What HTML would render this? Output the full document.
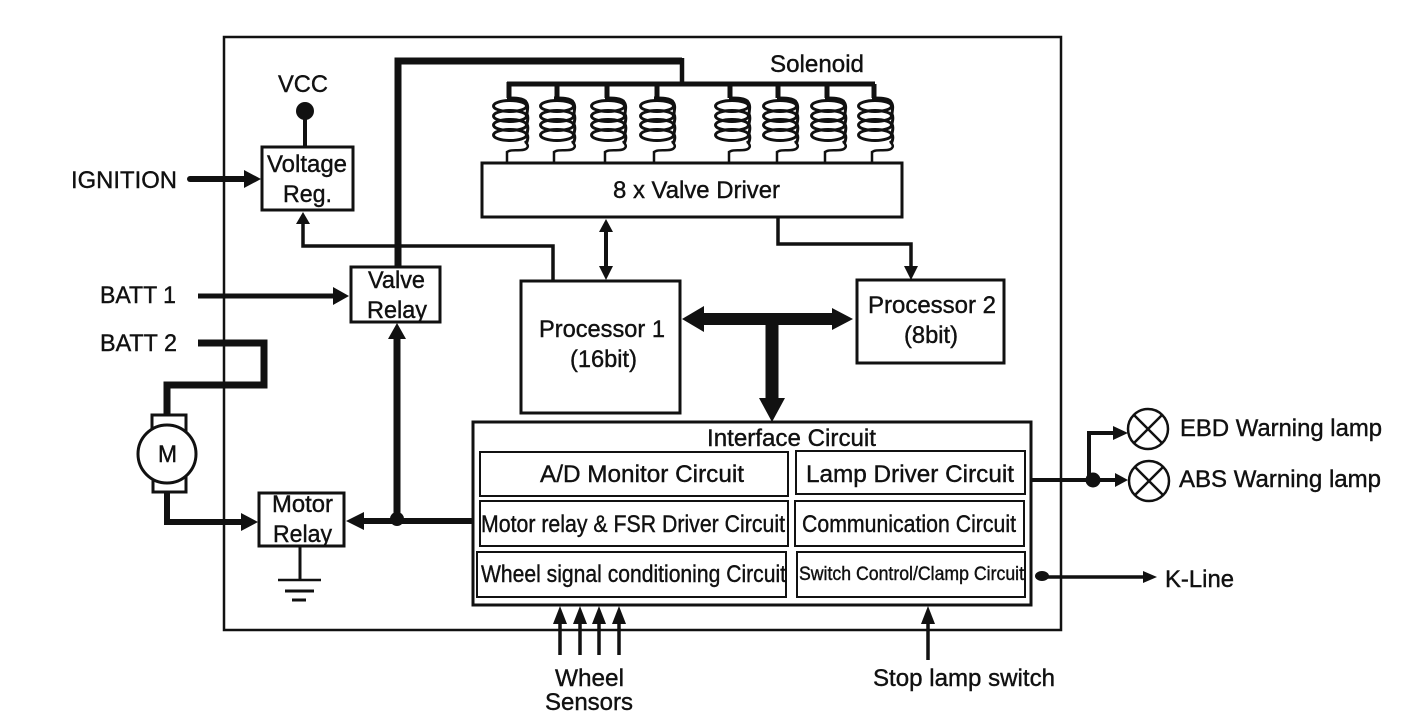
<!DOCTYPE html>
<html>
<head>
<meta charset="utf-8">
<style>
html,body{margin:0;padding:0;background:#fff;width:1408px;height:722px;overflow:hidden}
svg{display:block}
text{font-family:"Liberation Sans",sans-serif;font-size:24px;fill:#111;stroke:#111;stroke-width:.4}
.b{fill:#fff;stroke:#111;stroke-width:3}
.i{fill:none;stroke:#111;stroke-width:2}
.l{fill:none;stroke:#111;stroke-linejoin:miter}
.h{fill:#111;stroke:none}
</style>
</head>
<body>
<svg width="1408" height="722" viewBox="0 0 1408 722" xmlns="http://www.w3.org/2000/svg">
<defs>
<g id="coil">
  <path class="l" stroke-width="3" d="M-3 14 C4 14 14 14 16 18 C19 22 17 27 17 30 C19 34 17 38 17 40 C19 44 17 48 17 50 C19 54 17 58 16 60"/>
  <ellipse class="l" stroke-width="3" cx="0" cy="22" rx="16.5" ry="5.5"/>
  <ellipse class="l" stroke-width="3" cx="0" cy="32" rx="16.5" ry="5.5"/>
  <ellipse class="l" stroke-width="3" cx="0" cy="41" rx="16.5" ry="5.5"/>
  <ellipse class="l" stroke-width="3" cx="0" cy="51" rx="16.5" ry="5.5"/>
  <path class="l" stroke-width="2.5" d="M15 57 C17 60 19 62 17 64 C14 68 3 65 -1 67 L-3 68 L-3 78"/>
</g>
</defs>

<!-- outer frame -->
<rect x="224" y="37" width="837" height="593" fill="none" stroke="#111" stroke-width="2.5"/>

<!-- solenoid supply -->
<path class="l" stroke-width="7" d="M398 267 V61 H682"/>
<path class="l" stroke-width="4.5" d="M682 58 V84"/>
<path class="l" stroke-width="5" d="M507 84 H875"/>
<path class="l" stroke-width="5" d="M509 82 V98 M557 84 V98 M607 84 V98 M657 84 V98 M730 84 V98 M778 84 V98 M827 84 V98 M874 84 V98"/>

<!-- coils -->
<use href="#coil" x="510" y="84"/>
<use href="#coil" x="557" y="84"/>
<use href="#coil" x="608" y="84"/>
<use href="#coil" x="657" y="84"/>
<use href="#coil" x="732" y="84"/>
<use href="#coil" x="780" y="84"/>
<use href="#coil" x="828" y="84"/>
<use href="#coil" x="875" y="84"/>

<!-- Valve driver -->
<rect class="b" x="482" y="163" width="420" height="54"/>

<!-- Voltage reg wire -->
<path class="l" stroke-width="3.5" d="M553 281 V246 H303 V220"/>
<polygon class="h" points="303,212 296,224 310,224"/>

<!-- VCC -->
<circle cx="305" cy="111" r="9" fill="#111"/>
<path class="l" stroke-width="4" d="M305 111 V148"/>
<rect class="b" x="262" y="147" width="91" height="63"/>

<!-- Ignition -->
<path class="l" stroke-width="6" stroke-linecap="round" d="M190 179 H248"/>
<polygon class="h" points="261,179 244,170 244,188"/>

<!-- Batt 1 -->
<path class="l" stroke-width="5" d="M198 296 H336"/>
<polygon class="h" points="349,296 333,287 333,305"/>
<rect class="b" x="351" y="267" width="89" height="55"/>

<!-- Batt 2 + motor -->
<path class="l" stroke-width="7" stroke-linecap="butt" d="M198 343 H264 V385 H167 V415"/>
<rect class="b" x="152" y="415" width="34" height="24"/>
<rect class="b" x="153" y="468" width="33" height="24"/>
<circle cx="167" cy="454" r="29" fill="#fff" stroke="#111" stroke-width="3"/>
<path class="l" stroke-width="6" d="M167 492 V522 H246"/>
<polygon class="h" points="258,522 241,513 241,531"/>

<!-- Motor relay -->
<rect class="b" x="259" y="493" width="85" height="53"/>
<path class="l" stroke-width="3" d="M300 546 V580"/>
<path class="l" stroke-width="2.5" d="M278 580 H321"/>
<path class="l" stroke-width="3" d="M285 591 H314"/>
<path class="l" stroke-width="3" d="M292 600 H306"/>

<!-- Relay drive -->
<path class="l" stroke-width="6" d="M360 521 H473"/>
<polygon class="h" points="346,521 364,512 364,530"/>
<circle cx="397" cy="519" r="7" fill="#111"/>
<path class="l" stroke-width="7" d="M397 519 V335"/>
<polygon class="h" points="397,323 388,339 406,339"/>

<!-- Processors -->
<rect class="b" x="521" y="281" width="159" height="132"/>
<rect class="b" x="857" y="280" width="147" height="83"/>

<!-- Driver <-> P1 -->
<path class="l" stroke-width="4" d="M606 228 V270"/>
<polygon class="h" points="606,219 599,232 613,232"/>
<polygon class="h" points="606,280 599,266 613,266"/>

<!-- Driver -> P2 -->
<path class="l" stroke-width="3.5" d="M778 217 V244 H911 V268"/>
<polygon class="h" points="911,280 904,266 918,266"/>

<!-- Bus -->
<path class="l" stroke-width="12" d="M700 319 H836"/>
<polygon class="h" points="682,319 704,306 704,332"/>
<polygon class="h" points="853,319 832,308 832,330"/>
<path class="l" stroke-width="13" d="M772 319 V400"/>
<polygon class="h" points="772,422 759,398 785,398"/>

<!-- Interface -->
<rect class="b" x="473" y="422" width="558" height="183"/>
<rect class="i" x="480" y="452" width="308" height="44"/>
<rect class="i" x="796" y="451" width="229" height="43"/>
<rect class="i" x="480" y="501" width="308" height="45"/>
<rect class="i" x="795" y="501" width="229" height="45"/>
<rect class="i" x="477" y="552" width="309" height="45"/>
<rect class="i" x="797" y="552" width="228" height="45"/>

<!-- Wheel arrows -->
<path class="l" stroke-width="3.5" d="M560 618 V655 M580 618 V655 M599 618 V655 M619 618 V655 M928 618 V660"/>
<polygon class="h" points="560,606 553,624 567,624"/>
<polygon class="h" points="580,606 573,624 587,624"/>
<polygon class="h" points="599,606 592,624 606,624"/>
<polygon class="h" points="619,606 612,624 626,624"/>
<polygon class="h" points="928,606 921,624 935,624"/>

<!-- Lamps -->
<path class="l" stroke-width="4" d="M1032 480 H1118"/>
<polygon class="h" points="1128,480 1115,473 1115,487"/>
<circle cx="1093" cy="480" r="7.5" fill="#111"/>
<path class="l" stroke-width="4" d="M1089 480 V433 H1118"/>
<polygon class="h" points="1128,433 1113,426 1113,440"/>
<circle cx="1148" cy="429" r="20" fill="#fff" stroke="#111" stroke-width="2.5"/>
<path class="l" stroke-width="2.5" d="M1134 415 L1162 443 M1162 415 L1134 443"/>
<circle cx="1149" cy="481" r="20" fill="#fff" stroke="#111" stroke-width="2.5"/>
<path class="l" stroke-width="2.5" d="M1135 467 L1163 495 M1163 467 L1135 495"/>

<!-- K-Line -->
<path class="l" stroke-width="3.5" d="M1040 577 H1148"/>
<polygon class="h" points="1157,577 1143,571 1143,583"/>
<ellipse cx="1042" cy="576" rx="7" ry="5" fill="#111"/>

<!-- Labels -->
<text x="770" y="72" textLength="94" lengthAdjust="spacingAndGlyphs">Solenoid</text>
<text x="278" y="92" textLength="50" lengthAdjust="spacingAndGlyphs">VCC</text>
<text x="71" y="188" textLength="106" lengthAdjust="spacingAndGlyphs">IGNITION</text>
<text x="267" y="172" textLength="80" lengthAdjust="spacingAndGlyphs">Voltage</text>
<text x="283" y="202" textLength="49" lengthAdjust="spacingAndGlyphs">Reg.</text>
<text x="613" y="198" textLength="167" lengthAdjust="spacingAndGlyphs">8 x Valve Driver</text>
<text x="368" y="288" textLength="57" lengthAdjust="spacingAndGlyphs">Valve</text>
<text x="367" y="318" textLength="60" lengthAdjust="spacingAndGlyphs">Relay</text>
<text x="100" y="303" textLength="76" lengthAdjust="spacingAndGlyphs">BATT 1</text>
<text x="100" y="351" textLength="77" lengthAdjust="spacingAndGlyphs">BATT 2</text>
<text x="539" y="337" textLength="126" lengthAdjust="spacingAndGlyphs">Processor 1</text>
<text x="570" y="367" textLength="67" lengthAdjust="spacingAndGlyphs">(16bit)</text>
<text x="868" y="313" textLength="128" lengthAdjust="spacingAndGlyphs">Processor 2</text>
<text x="904" y="343" textLength="54" lengthAdjust="spacingAndGlyphs">(8bit)</text>
<text x="158" y="462" textLength="19" lengthAdjust="spacingAndGlyphs">M</text>
<text x="272" y="512" textLength="61" lengthAdjust="spacingAndGlyphs">Motor</text>
<text x="273" y="542" textLength="59" lengthAdjust="spacingAndGlyphs">Relay</text>
<text x="707" y="446" textLength="169" lengthAdjust="spacingAndGlyphs">Interface Circuit</text>
<text x="540" y="482" textLength="204" lengthAdjust="spacingAndGlyphs">A/D Monitor Circuit</text>
<text x="806" y="482" textLength="208" lengthAdjust="spacingAndGlyphs">Lamp Driver Circuit</text>
<text x="481" y="532" textLength="304" lengthAdjust="spacingAndGlyphs">Motor relay &amp; FSR Driver Circuit</text>
<text x="802" y="532" textLength="214" lengthAdjust="spacingAndGlyphs">Communication Circuit</text>
<text x="481" y="582" textLength="305" lengthAdjust="spacingAndGlyphs">Wheel signal conditioning Circuit</text>
<text x="799" y="580" textLength="225" lengthAdjust="spacingAndGlyphs" style="font-size:19px">Switch Control/Clamp Circuit</text>
<text x="1180" y="436" textLength="202" lengthAdjust="spacingAndGlyphs">EBD Warning lamp</text>
<text x="1179" y="487" textLength="202" lengthAdjust="spacingAndGlyphs">ABS Warning lamp</text>
<text x="1165" y="587" textLength="69" lengthAdjust="spacingAndGlyphs">K-Line</text>
<text x="555" y="686" textLength="69" lengthAdjust="spacingAndGlyphs">Wheel</text>
<text x="545" y="710" textLength="88" lengthAdjust="spacingAndGlyphs">Sensors</text>
<text x="873" y="686" textLength="182" lengthAdjust="spacingAndGlyphs">Stop lamp switch</text>
</svg>
</body>
</html>
